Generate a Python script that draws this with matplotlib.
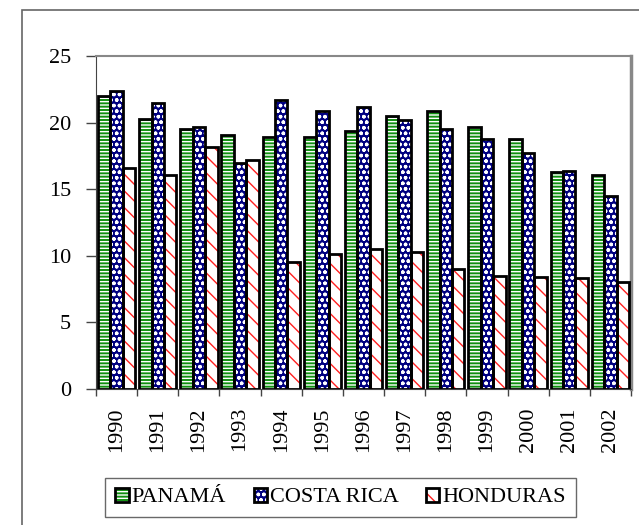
import matplotlib
matplotlib.use("Agg")
import matplotlib.pyplot as plt
from matplotlib.patches import Rectangle, Patch
from matplotlib.legend_handler import HandlerTuple
import numpy as np

years = ["1990", "1991", "1992", "1993", "1994", "1995", "1996",
         "1997", "1998", "1999", "2000", "2001", "2002"]
panama = [22.0, 20.3, 19.5, 19.1, 18.9, 18.9, 19.4, 20.5, 20.9, 19.7, 18.8, 16.3, 16.1]
costa_rica = [22.4, 21.5, 19.7, 17.0, 21.7, 20.9, 21.2, 20.2, 19.5, 18.8, 17.7, 16.4, 14.5]
honduras = [16.6, 16.1, 18.2, 17.2, 9.5, 10.1, 10.5, 10.3, 9.0, 8.5, 8.4, 8.3, 8.0]

series = [
    ("PANAMÁ", panama, "#109010", "white", "-----"),
    ("COSTA RICA", costa_rica, "#000080", "white", "ooo"),
    ("HONDURAS", honduras, "white", "#ff2020", "\\\\"),
]

plt.rcParams["font.family"] = ["Liberation Serif", "DejaVu Serif"]
plt.rcParams["hatch.linewidth"] = 1.0

fig = plt.figure(figsize=(6.39, 5.25), dpi=100)
fig.patch.set_facecolor("white")

# outer chart frame
fig.add_artist(Rectangle((22 / 639, -0.2), 1.2, 0.2 + 1 - 10 / 525,
                         transform=fig.transFigure, fill=False,
                         edgecolor="#666666", linewidth=1.2))

ax = fig.add_axes([96 / 639, 1 - 389 / 525, (631 - 96) / 639, (389 - 56) / 525])

x = np.arange(len(years))
w = 0.302
legend_handles = []
for i, (name, vals, face, hcol, hatch) in enumerate(series):
    pos = x + (i - 1) * w
    ax.bar(pos, vals, w, color=face, linewidth=0, zorder=2)
    ax.bar(pos, vals, w, facecolor="none", edgecolor=hcol, hatch=hatch,
           linewidth=0, zorder=3)
    ax.bar(pos, vals, w, fill=False, edgecolor="black", linewidth=2.0, zorder=4)
    h1 = Patch(facecolor=face, linewidth=0)
    h2 = Patch(facecolor="none", edgecolor=hcol, hatch=hatch, linewidth=0)
    h3 = Patch(fill=False, edgecolor="black", linewidth=2.0)
    legend_handles.append((h1, h2, h3))

ax.set_xlim(-0.5, len(years) - 0.5)
ax.set_ylim(0, 25)
ax.set_yticks([0, 5, 10, 15, 20, 25])
ax.tick_params(axis="y", direction="out", length=7, width=1, color="#444444",
               labelsize=16, pad=11)
ax.set_xticks(x)
ax.set_xticklabels(years, rotation=90, fontsize=16)
ax.tick_params(axis="x", which="major", length=0, pad=13)
ax.set_xticks(np.arange(len(years) + 1) - 0.5, minor=True)
ax.tick_params(axis="x", which="minor", direction="out", length=5, width=1,
               color="#444444")

ax.spines["left"].set_color("#444444")
ax.spines["bottom"].set_color("#444444")
ax.spines["top"].set_color("#888888")
ax.spines["top"].set_linewidth(1.5)
ax.spines["right"].set_color("#888888")
ax.spines["right"].set_linewidth(2.5)

leg = fig.legend(legend_handles, [s[0] for s in series],
                 handler_map={tuple: HandlerTuple(ndivide=1, pad=0)},
                 loc="center", bbox_to_anchor=(340.5 / 639, 1 - 497.5 / 525),
                 ncol=3, fontsize=16, frameon=True, fancybox=False,
                 edgecolor="#444444", handlelength=0.6, handleheight=0.6,
                 handletextpad=0.12, columnspacing=1.25, borderpad=0.45,
                 borderaxespad=0)
leg.get_frame().set_linewidth(1.0)

fig.savefig("out.png", dpi=100)
